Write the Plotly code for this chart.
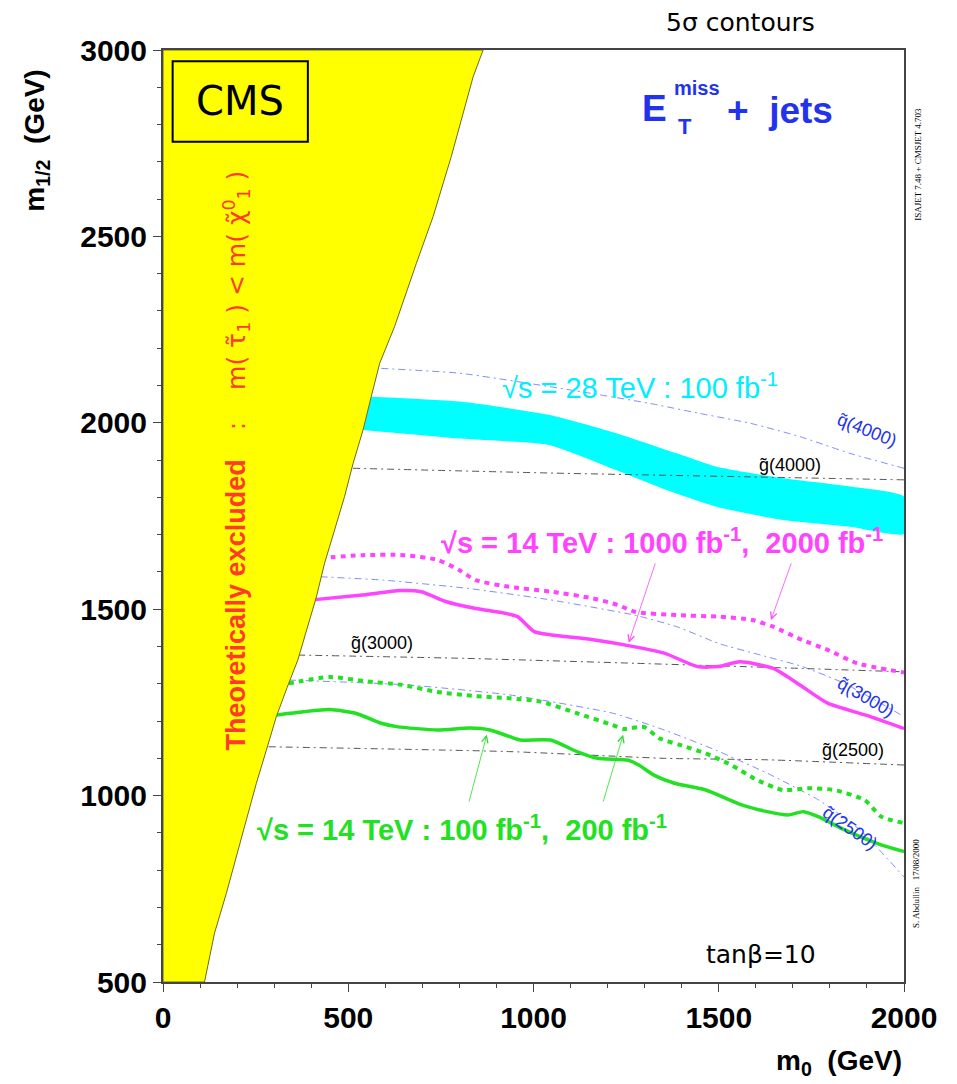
import plotly.graph_objects as go

# ---------------- data ----------------
# theoretically excluded region boundary (m0, m1/2)
excl_x = [864, 837, 810, 778, 729, 684, 625, 585, 562, 540, 513, 490, 463, 436, 414,
          387, 364, 335, 306, 279, 252, 225, 198, 171, 139, 112]
excl_y = [3000, 2928, 2830, 2714, 2553, 2428, 2258, 2160, 2070, 1981, 1891, 1802, 1712,
          1623, 1533, 1444, 1364, 1290, 1212, 1122, 1033, 935, 836, 738, 631, 500]

# 28 TeV band
band_top_x = [562, 801, 1044, 1224, 1386, 1494, 1674, 1854, 2000]
band_top_y = [2070, 2057, 2021, 1972, 1918, 1882, 1851, 1829, 1802]
band_bot_x = [540, 801, 1044, 1224, 1359, 1494, 1674, 1854, 2000]
band_bot_y = [1981, 1958, 1940, 1873, 1820, 1775, 1739, 1721, 1702]

# 14 TeV 2000 fb-1 (dotted magenta)
m2000_x = [425, 538, 651, 742, 799, 844, 934, 1048, 1161, 1228, 1274, 1387, 1500,
           1591, 1647, 1726, 1794, 1873, 2000]
m2000_y = [1637, 1645, 1645, 1632, 1605, 1578, 1560, 1547, 1529, 1511, 1493, 1484,
           1480, 1471, 1453, 1417, 1391, 1355, 1330]
# 14 TeV 1000 fb-1 (solid magenta)
m1000_x = [403, 538, 640, 697, 765, 844, 923, 957, 1002, 1048, 1161, 1274, 1353,
           1443, 1500, 1557, 1647, 1726, 1794, 1909, 2000]
m1000_y = [1525, 1538, 1550, 1547, 1520, 1502, 1489, 1480, 1440, 1431, 1418, 1399,
           1382, 1346, 1346, 1359, 1341, 1292, 1248, 1212, 1180]
# 14 TeV 200 fb-1 (dotted green)
g200_x = [339, 450, 544, 644, 741, 841, 936, 1019, 1117, 1214, 1242, 1298, 1339,
          1395, 1465, 1534, 1603, 1673, 1743, 1812, 1894, 1938, 2000]
g200_y = [1301, 1318, 1307, 1297, 1278, 1267, 1261, 1252, 1221, 1189, 1179, 1184,
          1154, 1136, 1113, 1082, 1042, 1015, 1020, 1015, 988, 944, 926]
# 14 TeV 100 fb-1 (solid green)
g100_x = [304, 379, 450, 520, 589, 631, 741, 828, 882, 936, 964, 1046, 1117, 1173,
          1256, 1284, 1325, 1381, 1465, 1562, 1631, 1686, 1729, 1770, 1840, 1938, 2000]
g100_y = [1216, 1225, 1231, 1221, 1194, 1185, 1176, 1181, 1176, 1158, 1149, 1149,
          1118, 1100, 1095, 1082, 1055, 1033, 1015, 975, 957, 948, 957, 943, 908, 868, 850]

# iso-mass lines
sq4000_x = [589, 801, 1044, 1179, 1314, 1449, 1584, 1719, 1854, 2000]
sq4000_y = [2146, 2133, 2097, 2075, 2052, 2025, 1999, 1963, 1918, 1878]
gl4000_x = [513, 1057, 1584, 2000]
gl4000_y = [1878, 1865, 1855, 1847]
sq3000_x = [425, 595, 821, 1046, 1273, 1387, 1500, 1613, 1726, 1839, 2000]
sq3000_y = [1587, 1578, 1556, 1525, 1484, 1453, 1408, 1377, 1346, 1301, 1212]
gl3000_x = [364, 821, 1273, 1726, 2000]
gl3000_y = [1377, 1368, 1355, 1341, 1332]
sq2500_x = [339, 658, 936, 1214, 1353, 1492, 1631, 1770, 1881, 2000]
sq2500_y = [1310, 1297, 1270, 1221, 1176, 1122, 1060, 988, 908, 782]
gl2500_x = [285, 936, 1353, 1631, 2000]
gl2500_y = [1131, 1118, 1100, 1096, 1082]

x_ticks = [0, 500, 1000, 1500, 2000]
y_ticks = [500, 1000, 1500, 2000, 2500, 3000]

# ---------------- styles ----------------
MAG = "#ff44ff"
GRN = "#22e022"
CYA = "#00ffff"
BLU_LINE = "#7f8cff"
RED = "#ff3a2a"
BLUE_TXT = "#2233ee"
SANS = "Liberation Sans, Arial, sans-serif"
CASUAL = "DejaVu Sans, sans-serif"

fig = go.Figure()

# cyan band
fig.add_trace(go.Scatter(x=band_top_x + band_bot_x[::-1], y=band_top_y + band_bot_y[::-1],
                         fill="toself", fillcolor=CYA, mode="lines",
                         line=dict(width=0, shape="spline", smoothing=0.5),
                         hoverinfo="skip", showlegend=False))

# iso-mass lines
for xs, ys, col in [(sq4000_x, sq4000_y, BLU_LINE), (sq3000_x, sq3000_y, BLU_LINE),
                    (sq2500_x, sq2500_y, BLU_LINE), (gl4000_x, gl4000_y, "#555555"),
                    (gl3000_x, gl3000_y, "#555555"), (gl2500_x, gl2500_y, "#555555")]:
    fig.add_trace(go.Scatter(x=xs, y=ys, mode="lines", showlegend=False, hoverinfo="skip",
                             line=dict(color=col, width=1, dash="7px,4px,2px,4px",
                                       shape="spline", smoothing=0.5)))

# reach curves
fig.add_trace(go.Scatter(x=m2000_x, y=m2000_y, mode="lines", showlegend=False,
                         line=dict(color=MAG, width=4, dash="5px,5px", shape="spline", smoothing=0.6)))
fig.add_trace(go.Scatter(x=m1000_x, y=m1000_y, mode="lines", showlegend=False,
                         line=dict(color=MAG, width=3.5, shape="spline", smoothing=0.6)))
fig.add_trace(go.Scatter(x=g200_x, y=g200_y, mode="lines", showlegend=False,
                         line=dict(color=GRN, width=4, dash="5px,5px", shape="spline", smoothing=0.6)))
fig.add_trace(go.Scatter(x=g100_x, y=g100_y, mode="lines", showlegend=False,
                         line=dict(color=GRN, width=3.5, shape="spline", smoothing=0.6)))

# excluded region (drawn last to cover line starts)
fig.add_trace(go.Scatter(x=excl_x + [0, 0, excl_x[0]], y=excl_y + [500, 3000, excl_y[0]],
                         fill="toself", fillcolor="#ffff00", mode="lines",
                         line=dict(color="#6b6b20", width=1), showlegend=False, hoverinfo="skip"))

ann = []


def A(text, x, y, size, color="black", family=SANS, bold=False, angle=0, xanchor="center",
      yanchor="middle", xref="x", yref="y"):
    ann.append(dict(text=text, x=x, y=y, xref=xref, yref=yref, showarrow=False,
                    xanchor=xanchor, yanchor=yanchor, textangle=angle,
                    font=dict(size=size, color=color, family=family,
                              weight="bold" if bold else "normal")))


# CMS label
A("CMS", 208, 2862, 40, family=CASUAL)
# E_T^miss + jets
A("E", 1327, 2842, 37, color=BLUE_TXT, bold=True)
A("miss", 1373, 2898, 20, color=BLUE_TXT, bold=True, xanchor="left")
A("T", 1384, 2796, 22, color=BLUE_TXT, bold=True, xanchor="left")
A("+  jets", 1516, 2839, 37, color=BLUE_TXT, bold=True, xanchor="left")
# excluded text
A("Theoretically excluded", 198, 1511, 27, color=RED, bold=True, angle=-90)
A(":    m( τ̃<sub>1</sub> ) < m( χ̃<sup>0</sup><sub>1</sub> )", 198, 2330, 25, color=RED,
  family=CASUAL, angle=-90)
# reach labels
A("√s = 28 TeV : 100 fb<sup>-1</sup>", 1287, 2099, 29, color="#00eeff")
A("√s = 14 TeV : 1000 fb<sup>-1</sup>,  2000 fb<sup>-1</sup>", 1347, 1683, 29, color=MAG, bold=True)
A("√s = 14 TeV : 100 fb<sup>-1</sup>,  200 fb<sup>-1</sup>", 806, 913, 29, color=GRN, bold=True)
# iso-mass labels
A("q̃(4000)", 1900, 1981, 18, color=BLUE_TXT, angle=22)
A("g̃(4000)", 1692, 1887, 18)
A("g̃(3000)", 590, 1409, 18)
A("q̃(3000)", 1897, 1265, 18, color=BLUE_TXT, angle=30)
A("g̃(2500)", 1862, 1122, 18)
A("q̃(2500)", 1854, 913, 18, color=BLUE_TXT, angle=35)
A("tanβ=10", 1615, 575, 25, family=CASUAL)
# outside texts
A("5σ contours", 0.78, 1.030, 25, family=CASUAL, xref="paper", yref="paper")
A("m<sub>1/2</sub>  (GeV)", -0.171, 0.903, 28, bold=True, angle=-90, xref="paper", yref="paper")
A("m<sub>0</sub>  (GeV)", 1.0, -0.086, 28, bold=True, xanchor="right", xref="paper", yref="paper")
A("ISAJET 7.48 + CMSJET 4.703", 1.019, 0.877, 9, family="Liberation Serif",
  angle=-90, xref="paper", yref="paper")
A("S. Abdullin   17/08/2000", 1.016, 0.106, 9, family="Liberation Serif",
  angle=-90, xref="paper", yref="paper")

# arrows
for (tx, ty, hx, hy, col) in [(1330, 1627, 1257, 1410, MAG), (1697, 1627, 1641, 1471, MAG),
                              (825, 980, 874, 1163, GRN), (1187, 980, 1242, 1163, GRN)]:
    ann.append(dict(x=hx, y=hy, ax=tx, ay=ty, xref="x", yref="y", axref="x", ayref="y",
                    text="", showarrow=True, arrowhead=5, arrowsize=1.6, arrowwidth=0.8,
                    arrowcolor=col))

fig.update_layout(
    width=957, height=1084,
    margin=dict(l=163, r=53, t=50, b=102),
    paper_bgcolor="white", plot_bgcolor="white",
    annotations=ann,
    shapes=[dict(type="rect", xref="x", yref="y", x0=26, x1=391, y0=2754, y1=2970,
                 line=dict(color="black", width=2), layer="above")],
    xaxis=dict(range=[0, 2000], tickvals=x_ticks, ticktext=[str(v) for v in x_ticks],
               ticks="outside", ticklen=8, tickwidth=1, tickcolor="#444",
               showline=True, linecolor="#444", linewidth=2, mirror=True,
               showgrid=False, zeroline=False,
               tickfont=dict(size=30, family=SANS, weight="bold", color="black"),
               minor=dict(dtick=100, ticks="outside", ticklen=4, tickcolor="#444", showgrid=False)),
    yaxis=dict(range=[500, 3000], tickvals=y_ticks, ticktext=[str(v) for v in y_ticks],
               ticks="outside", ticklen=8, tickwidth=1, tickcolor="#444",
               showline=True, linecolor="#444", linewidth=2, mirror=True,
               showgrid=False, zeroline=False,
               tickfont=dict(size=30, family=SANS, weight="bold", color="black"),
               minor=dict(dtick=100, ticks="outside", ticklen=4, tickcolor="#444", showgrid=False)),
)

fig.write_html("out.html")
